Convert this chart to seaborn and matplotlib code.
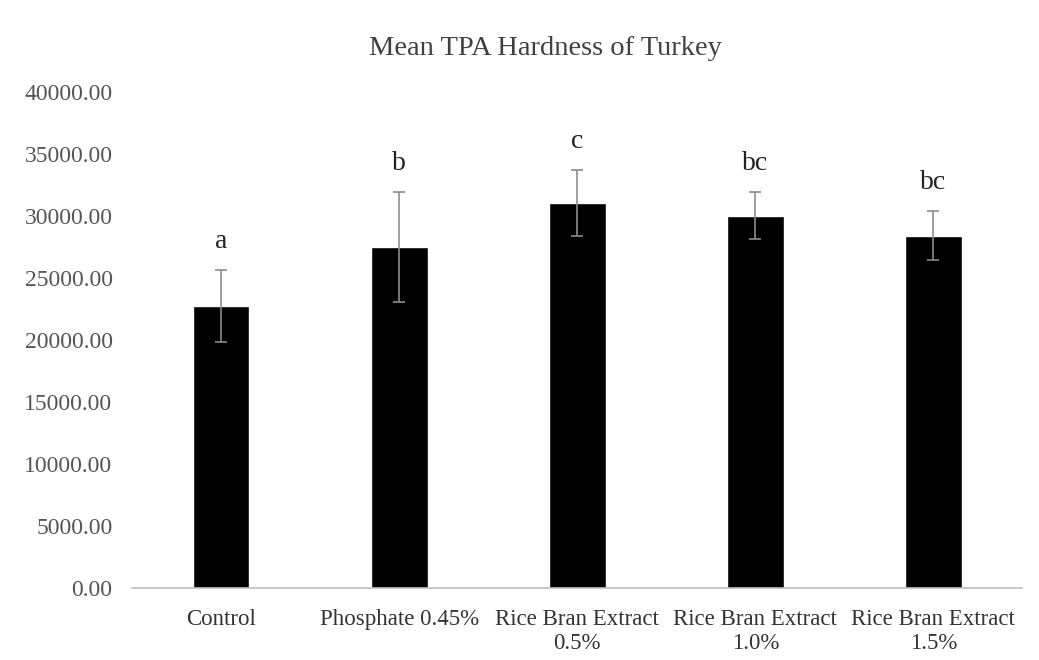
import matplotlib
matplotlib.use("Agg")
import matplotlib.pyplot as plt
import seaborn as sns
import pandas as pd
import numpy as np

categories = ["Control", "Phosphate 0.45%", "Rice Bran Extract\n0.5%",
              "Rice Bran Extract\n1.0%", "Rice Bran Extract\n1.5%"]
means = [22750, 27500, 31050, 30000, 28400]
sds = [2900, 4450, 2650, 1900, 2000]
letters = ["a", "b", "c", "bc", "bc"]
yticks = [0, 5000, 10000, 15000, 20000, 25000, 30000, 35000, 40000]

sns.set_theme(style="white")
plt.rcParams['font.family'] = ['Liberation Serif', 'DejaVu Serif']

df = pd.DataFrame({"cat": categories, "mean": means})

fig = plt.figure(figsize=(10.39, 6.6), dpi=100)
ax = fig.add_axes([0.127, 0.109, 0.857, 0.752])
sns.barplot(data=df, x="cat", y="mean", color="black", width=0.32,
            errorbar=None, ax=ax, saturation=1)
x = np.arange(len(categories))
ax.errorbar(x, means, yerr=sds, fmt="none", ecolor="#8c8c8c",
            elinewidth=1.2, capsize=4, capthick=1.2)
for xi, m, s, l in zip(x, means, sds, letters):
    ax.text(xi, m + s + 2300, l, ha="center", va="center", fontsize=20,
            color="#222222")

ax.set_ylim(0, 40000)
ax.set_xlim(-0.5, len(categories) - 0.5)
ax.set_yticks(yticks)
ax.set_yticklabels([f"{v:.2f}" for v in yticks])
ax.tick_params(axis="y", labelsize=17, colors="#555555", length=0, pad=14)
ax.tick_params(axis="x", labelsize=16.5, colors="#333333", length=0, pad=15)
ax.set_xlabel("")
ax.set_ylabel("")
for s in ["top", "right", "left"]:
    ax.spines[s].set_visible(False)
ax.spines["bottom"].set_color("#bfbfbf")
ax.spines["bottom"].set_linewidth(1.2)
ax.grid(False)
fig.suptitle("Mean TPA Hardness of Turkey", x=0.525, y=0.945, fontsize=20.5,
             color="#404040")
fig.savefig("out.png", dpi=100)
